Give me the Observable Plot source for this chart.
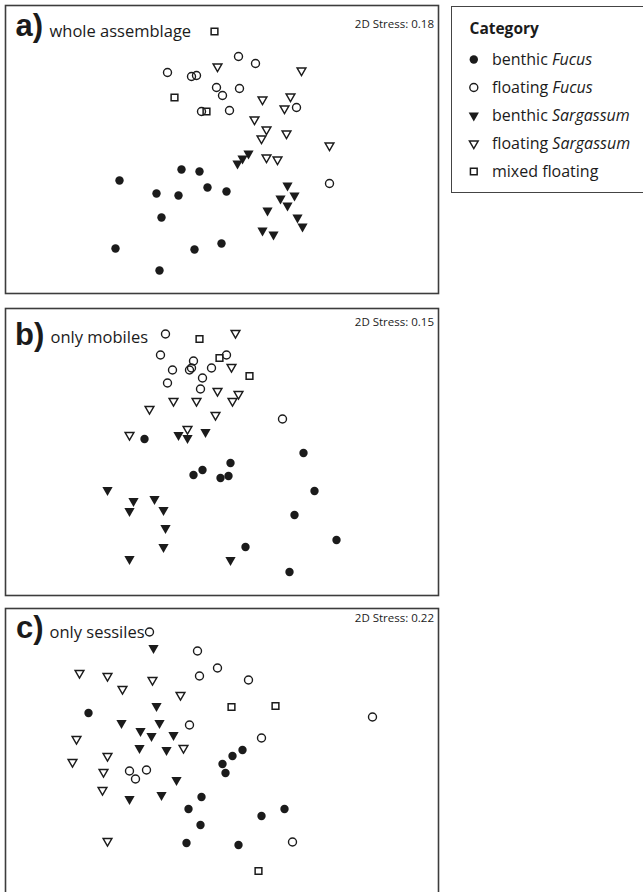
<!DOCTYPE html>
<html><head><meta charset="utf-8">
<script src="https://cdn.jsdelivr.net/npm/d3@7"></script>
<script src="https://cdn.jsdelivr.net/npm/@observablehq/plot@0.6"></script>
<style>
html,body{margin:0;padding:0;background:#fff;}
body{width:643px;height:892px;overflow:hidden;position:relative;font-family:"Open Sans",sans-serif;}
.abs{position:absolute;}
#legendBox{position:absolute;left:451px;top:6px;width:230px;height:187px;border:1.5px solid #444;box-sizing:border-box;}
</style></head><body>
<script>
// categories
const cats = ["benthic Fucus", "floating Fucus", "benthic Sargassum", "floating Sargassum", "mixed floating"];
const panelLetters = ["a)", "b)", "c)"];
const panelTitles = ["whole assemblage", "only mobiles", "only sessiles"];
const stressValues = ["0.18", "0.15", "0.22"];

// nMDS coordinates: [axis1, axis2]
// panel a) whole assemblage
const aBenthicFucus = [[-1.01,-0.31],[-0.39,-0.20],[-0.21,-0.22],[-0.13,-0.38],[0.06,-0.42],[-0.64,-0.44],[-0.42,-0.46],[-0.59,-0.68],[-1.05,-0.99],[-0.26,-1.00],[0.01,-0.94],[-0.61,-1.21]];
const aFloatingFucus = [[0.18,0.93],[0.35,0.86],[-0.53,0.77],[-0.29,0.73],[-0.24,0.74],[-0.04,0.62],[0.19,0.61],[0.02,0.54],[-0.19,0.38],[0.09,0.39],[0.76,0.42],[1.09,-0.34]];
const aBenthicSargassum = [[0.17,-0.14],[0.22,-0.09],[0.28,-0.04],[0.67,-0.36],[0.74,-0.46],[0.60,-0.49],[0.67,-0.56],[0.47,-0.61],[0.77,-0.68],[0.82,-0.77],[0.42,-0.81],[0.53,-0.85]];
const aFloatingSargassum = [[-0.03,0.83],[0.81,0.79],[0.42,0.50],[0.70,0.53],[0.64,0.41],[0.34,0.30],[0.46,0.20],[0.41,0.11],[0.66,0.16],[1.09,0.04],[0.46,-0.08],[0.57,-0.10]];
const aMixedFloating = [[-0.06,1.18],[-0.46,0.52],[-0.14,0.38]];

// panel b) only mobiles
const bBenthicFucus = [[-0.76,0.13],[0.83,-0.01],[0.10,-0.11],[-0.18,-0.18],[-0.27,-0.23],[0.00,-0.26],[0.08,-0.24],[0.94,-0.39],[0.74,-0.63],[1.16,-0.88],[0.25,-0.95],[0.69,-1.20]];
const bFloatingFucus = [[-0.55,1.18],[-0.60,0.97],[-0.27,0.91],[0.06,0.97],[-0.48,0.82],[-0.31,0.82],[-0.29,0.84],[-0.09,0.84],[-0.18,0.74],[-0.53,0.69],[-0.20,0.63],[0.62,0.33]];
const bBenthicSargassum = [[-0.42,0.17],[-0.33,0.14],[-0.15,0.20],[-1.13,-0.38],[-0.87,-0.49],[-0.66,-0.47],[-0.91,-0.59],[-0.57,-0.58],[-0.55,-0.76],[-0.57,-0.95],[-0.91,-1.07],[0.10,-1.08]];
const bFloatingSargassum = [[0.15,1.19],[0.11,0.85],[-0.03,0.61],[0.18,0.58],[0.12,0.51],[-0.71,0.43],[-0.47,0.51],[-0.24,0.51],[-0.05,0.37],[-0.33,0.23],[-0.91,0.17]];
const bMixedFloating = [[-0.21,1.13],[-0.01,0.94],[0.29,0.76]];

// panel c) only sessiles
const cBenthicFucus = [[-1.32,0.39],[0.22,0.02],[0.12,-0.04],[0.02,-0.12],[0.05,-0.21],[-0.19,-0.45],[-0.32,-0.57],[0.64,-0.57],[0.41,-0.64],[-0.20,-0.73],[-0.34,-0.91],[0.18,-0.93]];
const cFloatingFucus = [[-0.71,1.20],[-0.23,1.01],[-0.03,0.84],[-0.21,0.76],[0.28,0.72],[1.52,0.35],[-0.31,0.27],[0.41,0.14],[-0.91,-0.19],[-0.85,-0.27],[-0.74,-0.18],[0.72,-0.90]];
const cBenthicSargassum = [[-0.67,1.04],[-0.64,0.46],[-0.99,0.29],[-0.61,0.29],[-0.80,0.21],[-0.69,0.16],[-0.47,0.17],[-0.81,0.04],[-0.54,0.02],[-0.44,-0.28],[-0.59,-0.43],[-0.91,-0.47]];
const cFloatingSargassum = [[-1.41,0.79],[-1.13,0.76],[-0.68,0.72],[-0.98,0.63],[-0.40,0.57],[-1.44,0.13],[-0.37,0.04],[-1.13,-0.04],[-1.48,-0.10],[-1.17,-0.20],[-1.18,-0.38],[-1.13,-0.89]];
const cMixedFloating = [[0.11,0.45],[0.55,0.46],[0.38,-1.19]];

const INK = "#1b1b1b";
const FONT = "'Open Sans', sans-serif";
const catStyles = [
  {symbol: "circle", fill: INK, stroke: "none", r: 4.2, rotate: 0},
  {symbol: "circle", fill: "none", stroke: INK, strokeWidth: 1.4, r: 4.0, rotate: 0},
  {symbol: "triangle", fill: INK, stroke: "none", r: 3.8, rotate: 180},
  {symbol: "triangle", fill: "none", stroke: INK, strokeWidth: 1.4, r: 3.3, rotate: 180},
  {symbol: "square", fill: "none", stroke: INK, strokeWidth: 1.5, r: 3.8, rotate: 0}
];

const panels = [
  {sets: [aBenthicFucus, aFloatingFucus, aBenthicSargassum, aFloatingSargassum, aMixedFloating], yDomain: [-1.44, 1.44], left: 4, top: 4, height: 290,
   lab: {ldx: 10, ldy: 30.5, tdx: 44, tdy: 31, sdy: 22}},
  {sets: [bBenthicFucus, bFloatingFucus, bBenthicSargassum, bFloatingSargassum, bMixedFloating], yDomain: [-1.435, 1.435], left: 4, top: 307, height: 289,
   lab: {ldx: 9.5, ldy: 36, tdx: 45, tdy: 34.5, sdy: 17}},
  {sets: [cBenthicFucus, cFloatingFucus, cBenthicSargassum, cFloatingSargassum, cMixedFloating], yDomain: [-1.435, 1.435], left: 4, top: 607, height: 289,
   lab: {ldx: 10.5, ldy: 29.5, tdx: 44, tdy: 29, sdy: 13}}
];

panels.forEach((p, k) => {
  const marks = [
    Plot.frame({stroke: "#3d3d3d", strokeWidth: 1.6})
  ];
  p.sets.forEach((set, i) => {
    marks.push(Plot.dot(set, {x: d => d[0], y: d => d[1], ...catStyles[i]}));
  });
  marks.push(
    Plot.text([panelLetters[k]], {text: d => d, frameAnchor: "top-left", textAnchor: "start", lineAnchor: "bottom",
      dx: p.lab.ldx, dy: p.lab.ldy, fontFamily: "'Liberation Sans', Arial, sans-serif", fontWeight: "bold", fontSize: 31, fill: INK}),
    Plot.text([panelTitles[k]], {text: d => d, frameAnchor: "top-left", textAnchor: "start", lineAnchor: "bottom",
      dx: p.lab.tdx, dy: p.lab.tdy, fontFamily: FONT, fontSize: 16.5, fill: INK}),
    Plot.text([stressValues[k]], {text: d => `2D Stress: ${d}`, frameAnchor: "top-right", textAnchor: "end", lineAnchor: "bottom",
      dx: -4.5, dy: p.lab.sdy, fontFamily: FONT, fontSize: 11.5, fill: INK})
  );
  const chart = Plot.plot({
    width: 435, height: p.height, margin: 1,
    x: {domain: [-2.15, 2.18], axis: null},
    y: {domain: p.yDomain, axis: null},
    style: {background: "transparent", overflow: "visible"},
    marks
  });
  chart.classList.add("abs");
  chart.style.left = p.left + "px";
  chart.style.top = p.top + "px";
  document.body.appendChild(chart);
});

// legend
const box = document.createElement("div");
box.id = "legendBox";
document.body.appendChild(box);

const legend = Plot.plot({
  width: 192, height: 187, margin: 0,
  x: {domain: [0, 192], range: [0, 192], axis: null},
  y: {type: "point", domain: cats, range: [52.3, 165], padding: 0, axis: null},
  style: {background: "transparent", overflow: "visible"},
  marks: [
    ...cats.map((c, i) => Plot.dot([c], {y: d => d, frameAnchor: "left", dx: 22.3, ...catStyles[i]})),
    Plot.text(cats, {y: d => d, text: d => d, frameAnchor: "left", dx: 40.5, textAnchor: "start", lineAnchor: "middle",
      fontFamily: FONT, fontSize: 16, fill: INK}),
    Plot.text(["Category"], {text: d => d, frameAnchor: "top-left", dx: 18, dy: 27.5, textAnchor: "start", lineAnchor: "bottom",
      fontFamily: FONT, fontSize: 15.5, fontWeight: "bold", fill: INK})
  ]
});
legend.classList.add("abs");
legend.style.left = "451px";
legend.style.top = "6px";
document.body.appendChild(legend);

// italicise genus names in the legend labels
d3.select(legend).selectAll("text").each(function () {
  const t = this.textContent;
  if (!cats.includes(t)) return;
  const parts = t.split(" ");
  if (parts[1] === "Fucus" || parts[1] === "Sargassum") {
    this.textContent = parts[0] + " ";
    d3.select(this).append("tspan").attr("font-style", "italic").text(parts[1]);
  }
});
</script></body></html>
